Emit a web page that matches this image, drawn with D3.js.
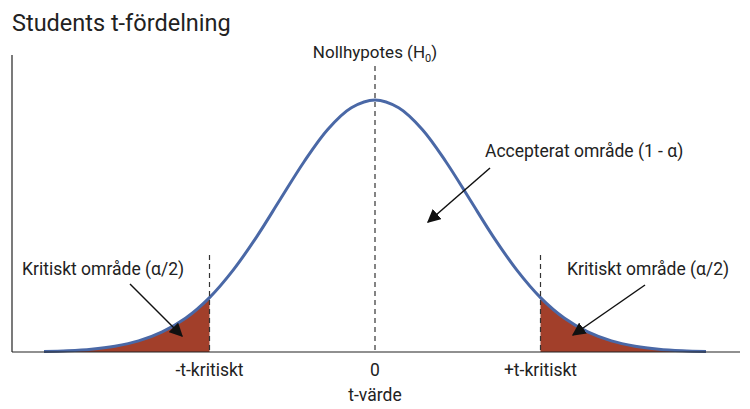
<!DOCTYPE html>
<html><head><meta charset="utf-8">
<script src="https://cdn.jsdelivr.net/npm/d3@7"></script>
<style>body{margin:0;background:#fff}text{font-family:Roboto,sans-serif;fill:#222}</style>
</head><body><svg id="c" width="750" height="409"></svg>
<script>
const tValues=[-3.5,-3.25,-3,-2.75,-2.5,-2.25,-2,-1.75,-1.5,-1.25,-1,-0.75,-0.5,-0.25,0,0.25,0.5,0.75,1,1.25,1.5,1.75,2,2.25,2.5,2.75,3,3.25,3.5];
const density=[0.002,0.005,0.011,0.023,0.044,0.080,0.135,0.216,0.325,0.458,0.607,0.755,0.883,0.969,1,0.969,0.883,0.755,0.607,0.458,0.325,0.216,0.135,0.080,0.044,0.023,0.011,0.005,0.002];
const tCrit=1.75;
const tickLabels=["-t-kritiskt","0","+t-kritiskt"];
const pts=tValues.map((t,i)=>({t,d:density[i]}));
const svg=d3.select("#c");
const x=d3.scaleLinear().domain([-3.5,3.5]).range([44,706]);
const y=d3.scaleLinear().domain([0,1]).range([352,100]);
const line=d3.line().x(d=>x(d.t)).y(d=>y(d.d)).curve(d3.curveCatmullRom);
const area=d3.area().x(d=>x(d.t)).y0(y(0)).y1(d=>y(d.d)).curve(d3.curveCatmullRom);
svg.append("path").attr("d",area(pts.filter(p=>p.t<=-tCrit))).attr("fill","#a23f2a");
svg.append("path").attr("d",area(pts.filter(p=>p.t>=tCrit))).attr("fill","#a23f2a");
svg.append("path").attr("d",line(pts)).attr("fill","none").attr("stroke","#4a68a6").attr("stroke-width",3);
svg.append("line").attr("x1",12).attr("x2",12).attr("y1",55).attr("y2",352).attr("stroke","#222").attr("stroke-width",1.2);
svg.append("line").attr("x1",12).attr("x2",740).attr("y1",352).attr("y2",352).attr("stroke","#222").attr("stroke-width",1.2);
const dash=(t,y1)=>svg.append("line").attr("x1",x(t)).attr("x2",x(t)).attr("y1",y1).attr("y2",352).attr("stroke","#333").attr("stroke-dasharray","5,4").attr("stroke-width",1.2);
dash(0,66);dash(-tCrit,255);dash(tCrit,255);
[-tCrit,0,tCrit].forEach((t,i)=>svg.append("text").attr("x",x(t)).attr("y",376).attr("text-anchor","middle").attr("font-size",17.5).text(tickLabels[i]));
svg.append("text").attr("x",x(0)).attr("y",401).attr("text-anchor","middle").attr("font-size",17.5).text("t-värde");
svg.append("text").attr("x",12).attr("y",31).attr("font-size",23.5).text("Students t-fördelning");
const h=svg.append("text").attr("x",x(0)).attr("y",58).attr("text-anchor","middle").attr("font-size",17).text("Nollhypotes (H");
h.append("tspan").attr("font-size",11).attr("dy",4).text("0");
h.append("tspan").attr("dy",-4).text(")");
svg.append("text").attr("x",485).attr("y",157).attr("font-size",17.5).text("Accepterat område (1 - α)");
svg.append("text").attr("x",22).attr("y",275).attr("font-size",17.5).text("Kritiskt område (α/2)");
svg.append("text").attr("x",567).attr("y",275).attr("font-size",17.5).text("Kritiskt område (α/2)");
svg.append("defs").append("marker").attr("id","ar").attr("viewBox","0 0 10 10").attr("refX",9).attr("refY",5)
 .attr("markerWidth",9).attr("markerHeight",9).attr("orient","auto").append("path").attr("d","M0,0L10,5L0,10z").attr("fill","#111");
const arrow=(a,b,c,d)=>svg.append("line").attr("x1",a).attr("y1",b).attr("x2",c).attr("y2",d).attr("stroke","#111").attr("stroke-width",1.5).attr("marker-end","url(#ar)");
arrow(490,168,428,222);arrow(130,284,182,336);arrow(645,285,573,335);
</script></body></html>
